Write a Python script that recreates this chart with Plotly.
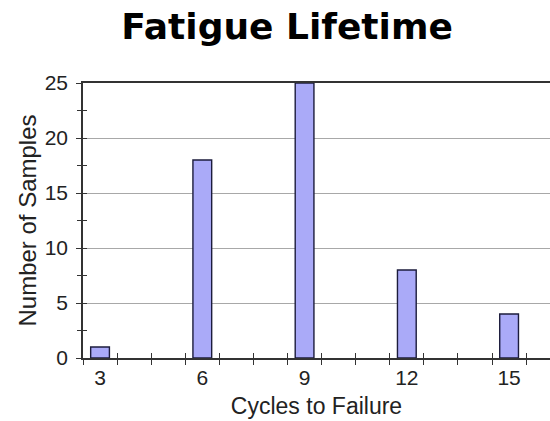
import plotly.graph_objects as go

cycles = [3, 6, 9, 12, 15]
samples = [1, 18, 25, 8, 4]
x_tick_labels = ["3", "6", "9", "12", "15"]
y_tick_vals = [0, 5, 10, 15, 20, 25]

fig = go.Figure()
fig.add_trace(go.Bar(
    x=cycles, y=samples, width=0.55,
    marker=dict(color="#aaaaf8", line=dict(color="#1c1c3c", width=1.4)),
    xaxis="x", yaxis="y",
))
# invisible helper trace for the inside-tick overlay axes
fig.add_trace(go.Scatter(x=[cycles[0]], y=[samples[0]], xaxis="x2", yaxis="y2",
                         mode="markers", marker=dict(opacity=0), showlegend=False,
                         hoverinfo="skip"))

tickfont = dict(family="Liberation Sans, Arial", size=21, color="#222222")
axis_color = "#333333"

fig.update_layout(
    width=550, height=421,
    paper_bgcolor="white", plot_bgcolor="white",
    margin=dict(l=83, r=0, t=83, b=63, autoexpand=False),
    showlegend=False,
    title=dict(text="<b>Fatigue Lifetime</b>", x=0.522, xanchor="center",
               y=0.967, yanchor="top",
               font=dict(family="DejaVu Sans", size=36, color="#000000")),
    xaxis=dict(
        range=[2.5, 16.2], tickmode="array", tickvals=cycles, ticktext=x_tick_labels,
        ticks="", showgrid=False, zeroline=False, automargin=False,
        showline=True, linecolor=axis_color, linewidth=1.5, mirror=True,
        tickfont=tickfont,
        minor=dict(tick0=2.5, dtick=1, ticks="outside", ticklen=5,
                   tickcolor=axis_color, tickwidth=1, showgrid=False),
        title=dict(text="Cycles to Failure", standoff=10,
                   font=dict(family="Liberation Sans, Arial", size=23, color="#222222")),
    ),
    yaxis=dict(
        range=[0, 25], tickmode="array", tickvals=y_tick_vals,
        ticks="outside", ticklen=5, tickcolor=axis_color, tickwidth=1,
        showgrid=True, gridcolor="#a8a8a8", gridwidth=1.2, zeroline=False,
        showline=True, linecolor=axis_color, linewidth=1.5, automargin=False,
        tickfont=tickfont, ticklabelstandoff=4,
        minor=dict(tick0=0, dtick=2.5, ticks="outside", ticklen=4,
                   tickcolor=axis_color, tickwidth=1, showgrid=False),
        title=dict(text="Number of Samples", standoff=1,
                   font=dict(family="Liberation Sans, Arial", size=24, color="#222222")),
    ),
    xaxis2=dict(
        overlaying="x", matches="x", range=[2.5, 16.2], showticklabels=False,
        tickmode="linear", tick0=2.5, dtick=1, ticks="inside", ticklen=5,
        tickcolor=axis_color, tickwidth=1, showgrid=False, zeroline=False,
        showline=False, automargin=False,
    ),
    yaxis2=dict(
        overlaying="y", range=[0, 25], showticklabels=False,
        tickmode="linear", tick0=0, dtick=2.5, ticks="inside", ticklen=4,
        tickcolor=axis_color, tickwidth=1, showgrid=False, zeroline=False,
        showline=False, automargin=False,
    ),
)

fig.write_html("out.html", config={"displayModeBar": False},
               post_script="document.body.style.margin='0';document.body.style.overflow='hidden';")
